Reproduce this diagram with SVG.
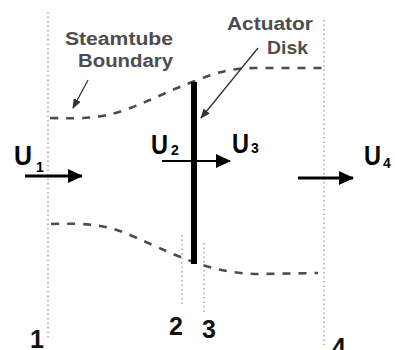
<svg xmlns="http://www.w3.org/2000/svg" width="395" height="350" viewBox="0 0 395 350">
<style>
.lbl{font-family:"Liberation Sans",Arial,sans-serif;font-weight:bold;fill:#4d4d4d;font-size:18px}
.u{font-family:"Liberation Sans",Arial,sans-serif;font-weight:bold;fill:#000;font-size:28px}
.sub{font-family:"Liberation Sans",Arial,sans-serif;font-weight:bold;fill:#000;font-size:14px}
.num{font-family:"Liberation Sans",Arial,sans-serif;font-weight:bold;fill:#111;font-size:25px}
.dot{stroke:#a8a8a8;stroke-width:1.5;stroke-dasharray:1.5 3;fill:none}
.dash{stroke:#4d4d4d;stroke-width:2.6;stroke-dasharray:8 8;fill:none}
.flow{stroke:#000;fill:none}
.ptr{stroke:#333;stroke-width:1.3;fill:none}
</style>
<defs>
<marker id="head" markerUnits="userSpaceOnUse" markerWidth="15" markerHeight="14" refX="14" refY="7" orient="auto">
<path d="M0,0 L15,7 L0,14 z" fill="#000"/>
</marker>
<marker id="phead" markerUnits="userSpaceOnUse" markerWidth="10" markerHeight="8" refX="9" refY="4" orient="auto">
<path d="M0,0 L10,4 L0,8 z" fill="#333"/>
</marker>
</defs>
<rect width="395" height="350" fill="#fff"/>
<g id="stations">
<line class="dot" x1="48" y1="12" x2="48" y2="338"/>
<line class="dot" x1="182" y1="235" x2="182" y2="307"/>
<line class="dot" x1="204" y1="243" x2="204" y2="312"/>
<line class="dot" x1="324" y1="20" x2="324" y2="345"/>
</g>
<g id="steamtube">
<path class="dash" d="M50,118 C90,119 105,117 125,110 C150,101 170,90 195,81 C215,73 230,68 255,68 L322,68"/>
<path class="dash" d="M51,224 C85,223 105,224 130,235 C160,248 180,258 200,264 C220,271 240,274 260,274 L318,273"/>
</g>
<g id="disk">
<rect x="191" y="82" width="6" height="182" fill="#000"/>
</g>
<g id="connectors">
<line class="flow" stroke-width="3" x1="25" y1="176" x2="82" y2="176" marker-end="url(#head)"/>
<line class="flow" stroke-width="2" x1="162" y1="161" x2="230" y2="161" marker-end="url(#head)"/>
<line class="flow" stroke-width="3" x1="298" y1="178" x2="353" y2="178" marker-end="url(#head)"/>
<line class="ptr" x1="88" y1="80" x2="73" y2="108" marker-end="url(#phead)"/>
<line class="ptr" x1="258" y1="48" x2="201" y2="118" marker-end="url(#phead)"/>
</g>
<g id="labels">
<text class="lbl" x="65" y="45" textLength="108" lengthAdjust="spacingAndGlyphs">Steamtube</text>
<text class="lbl" x="78" y="67" textLength="95" lengthAdjust="spacingAndGlyphs">Boundary</text>
<text class="lbl" x="227" y="30" textLength="86" lengthAdjust="spacingAndGlyphs">Actuator</text>
<text class="lbl" x="267" y="54" textLength="41" lengthAdjust="spacingAndGlyphs">Disk</text>
</g>
<g id="velocities">
<text class="u" x="14" y="165" textLength="18" lengthAdjust="spacingAndGlyphs">U</text><text class="sub" x="36" y="172">1</text>
<text class="u" x="151" y="154" textLength="17" lengthAdjust="spacingAndGlyphs">U</text><text class="sub" x="171" y="155">2</text>
<text class="u" x="232" y="153" textLength="17" lengthAdjust="spacingAndGlyphs">U</text><text class="sub" x="251" y="153">3</text>
<text class="u" x="364" y="165" textLength="17" lengthAdjust="spacingAndGlyphs">U</text><text class="sub" x="383" y="168">4</text>
</g>
<g id="numbers">
<text class="num" x="30" y="348">1</text>
<text class="num" x="169" y="335">2</text>
<text class="num" x="202" y="338">3</text>
<text class="num" x="332" y="356">4</text>
</g>
</svg>
